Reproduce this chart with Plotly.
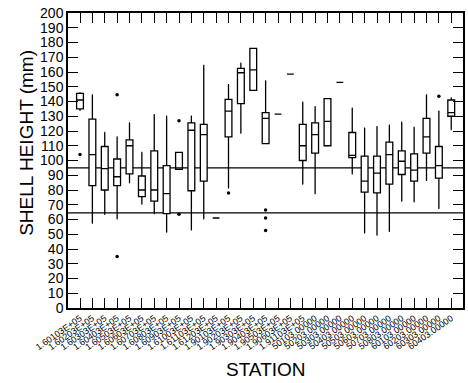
import plotly.graph_objects as go

stations = [
    "1.60103E+05", "1.60203E+05", "1.60303E+05", "1.60403E+05", "1.60503E+05",
    "1.60603E+05", "1.60703E+05", "1.60803E+05", "1.60903E+05", "1.61003E+05",
    "1.61103E+05", "1.61203E+05", "1.90103E+05", "1.90203E+05", "1.90303E+05",
    "1.90403E+05", "1.90503E+05", "1.90603E+05", "1.91103E+05", "50103.00000",
    "50203.00000", "50303.00000", "50403.00000", "50503.00000", "50603.00000",
    "50703.00000", "50803.00000", "60103.00000", "60203.00000", "60303.00000",
    "60403.00000",
]
q1 = [135, 83, 80, 83, 91, 75.5, 72.5, 64, 94, 79.5, 86, 61, 116, 138.5, 147.5,
      111.5, 131.5, 158.5, 100, 105, 110, 153, 102, 78.5, 78, 84, 90.5, 86, 105, 88, 130]
median = [141, 104, 94.5, 89, 110, 80, 80, 77.5, 95, 120.5, 117.5, 61, 133.5, 159.5, 161.5,
          128.5, 131.5, 158.5, 110, 117.5, 126.5, 153, 103.5, 86, 91.5, 104, 99.5, 93.5, 116, 96.5, 132.5]
q3 = [145.5, 128, 109.5, 101, 114, 89.5, 106.5, 96.5, 105.5, 125.5, 124.5, 61, 141.5, 162.5, 176,
      132.5, 131.5, 158.5, 124.5, 125.5, 142, 153, 119, 103, 103, 112.5, 106.5, 104.5, 128.5, 109.5, 141]
lower = [134, 57.5, 63.5, 60.5, 85, 70.5, 64, 51.5, 94, 53, 60.5, 61, 81.5, 118.5, 147.5,
         111.5, 131.5, 158.5, 84, 77.5, 110, 153, 91, 51, 49.5, 52, 72.5, 72, 86.5, 67.5, 121]
upper = [146, 144.5, 119, 116, 125.5, 105.5, 131, 130, 105.5, 130, 164.5, 61, 151.5, 166, 176,
         154, 131.5, 158.5, 139.5, 136.5, 142, 153, 135.5, 122, 123, 124, 126, 122.5, 144.5, 133.5, 142.5]

outlier_station = [stations[0], stations[3], stations[3], stations[8], stations[8],
                   stations[12], stations[15], stations[15], stations[15], stations[29]]
outlier_value = [104, 144.5, 35, 127, 63.5, 78, 66.5, 61, 52.5, 143.5]

ref_lines = [95, 64.5]
y_ticks = list(range(0, 201, 10))

fig = go.Figure()
fig.add_trace(go.Box(
    x=stations, q1=q1, median=median, q3=q3, lowerfence=lower, upperfence=upper,
    line=dict(color="black", width=1.3), fillcolor="white",
    width=0.55, whiskerwidth=0.15, boxpoints=False, showlegend=False,
))
fig.add_trace(go.Scatter(
    x=outlier_station, y=outlier_value, mode="markers",
    marker=dict(color="black", size=3.5), showlegend=False,
))
for v in ref_lines:
    fig.add_shape(type="line", xref="paper", x0=0, x1=1, yref="y", y0=v, y1=v,
                  line=dict(color="black", width=1.2), layer="below")

font_family = "Liberation Sans, Arial, sans-serif"
fig.add_annotation(text="SHELL HEIGHT (mm)", xref="paper", yref="paper",
                   x=(27 - 68) / 395, y=0.56, textangle=-90, showarrow=False,
                   xanchor="center", yanchor="middle",
                   font=dict(size=19, color="black", family=font_family))
fig.add_annotation(text="STATION", xref="paper", yref="paper",
                   x=0.5025, y=-0.209, showarrow=False,
                   xanchor="center", yanchor="middle",
                   font=dict(size=19, color="black", family=font_family))

fig.update_layout(
    width=468, height=383,
    margin=dict(l=68, r=5, t=13, b=75),
    paper_bgcolor="white", plot_bgcolor="white",
    font=dict(family=font_family, color="black"),
)
fig.update_xaxes(
    type="category", categoryorder="array", categoryarray=stations,
    range=[-0.97, 30.95], automargin=False,
    showline=True, linecolor="black", linewidth=1.5, mirror="ticks",
    ticks="inside", ticklen=10, tickwidth=1.3, tickcolor="black",
    tickangle=-35, tickfont=dict(size=9, color="black", family=font_family),
    showgrid=False, zeroline=False,
)
fig.update_yaxes(
    range=[0, 200], tickvals=y_ticks, automargin=False,
    showline=True, linecolor="black", linewidth=1.5, mirror="ticks",
    ticks="inside", ticklen=10, tickwidth=1.3, tickcolor="black",
    tickfont=dict(size=14, color="black", family=font_family),
    showgrid=False, zeroline=False,
)

fig.write_html(
    "out.html",
    config={"displayModeBar": False},
    post_script="document.body.style.margin='0';document.body.style.overflow='hidden';",
)
